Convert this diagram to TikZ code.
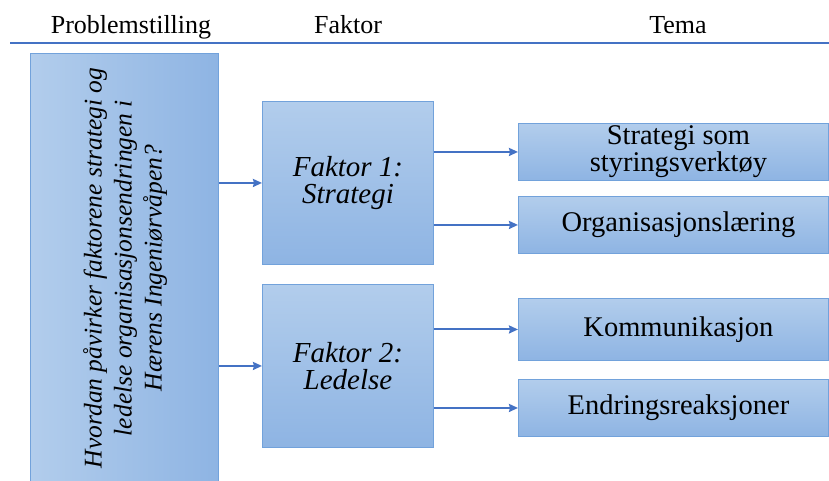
\documentclass[tikz,border=0pt]{standalone}
\usepackage{fontspec}
\setmainfont{Liberation Serif}
\usetikzlibrary{arrows.meta}
\definecolor{boxlight}{HTML}{B2CDEC}
\definecolor{boxdark}{HTML}{8EB4E3}
\definecolor{boxedge}{HTML}{72A2DB}
\definecolor{linkblue}{HTML}{4472C4}
\begin{document}
\begin{tikzpicture}[x=1pt,y=-1pt,
  header/.style={font=\fontsize{26}{30}\selectfont, inner sep=0pt, anchor=base},
  boxbase/.style={draw=boxedge, line width=0.9pt, inner sep=0pt},
  faktorbox/.style={boxbase, top color=boxlight, bottom color=boxdark,
    minimum width=171pt, minimum height=163pt, anchor=north west,
    align=center, font=\fontsize{29}{27}\itshape\selectfont},
  temabox/.style={boxbase, top color=boxlight, bottom color=boxdark,
    minimum width=310pt, minimum height=57pt, anchor=north west},
  tematext/.style={align=center, inner sep=0pt, xshift=5pt,
    font=\fontsize{28.5}{25}\selectfont},
  link/.style={draw=linkblue, line width=2pt,
    -{Stealth[length=9pt,width=8pt,inset=1pt]}}]
\clip (0,0) rectangle (829,480);

% column headings and rule
\node[header] (hprob) at (131,33) {Problemstilling};
\node[header] (hfak)  at (348,33) {Faktor};
\node[header] (htema) at (678,33) {Tema};
\coordinate (ruleL) at (10,43);
\coordinate (ruleR) at (829,43);
\draw[linkblue, line width=1.2pt] (ruleL) -- (ruleR);

% research question
\node[boxbase, left color=boxlight, right color=boxdark,
  minimum width=188pt, minimum height=450pt, anchor=north west]
  (prob) at (30,53) {};
\node[rotate=90, align=center, inner sep=0pt,
  font=\fontsize{25.5}{30}\itshape\selectfont] (probtxt) at (125,268)
  {Hvordan påvirker faktorene strategi og\\
   ledelse organisasjonsendringen i\\
   Hærens Ingeniørvåpen?};

% factors
\node[faktorbox] (f1) at (262,101) {Faktor 1:\\Strategi};
\node[faktorbox] (f2) at (262,284) {Faktor 2:\\Ledelse};

% themes
\node[temabox, label={[tematext]center:Strategi som\\styringsverktøy}] (t1) at (518,123) {};
\node[temabox, label={[tematext]center:Organisasjonslæring}] (t2) at (518,196) {};
\node[temabox, minimum height=62pt, label={[tematext]center:Kommunikasjon}] (t3) at (518,298) {};
\node[temabox, label={[tematext]center:Endringsreaksjoner}] (t4) at (518,379) {};

% connectors
\draw[link] (f1.west -| prob.east) -- (f1.west);
\draw[link] (f2.west -| prob.east) -- (f2.west);
\draw[link] (t1.west -| f1.east) -- (t1.west);
\draw[link] (t2.west -| f1.east) -- (t2.west);
\draw[link] (t3.west -| f2.east) -- (t3.west);
\draw[link] (t4.west -| f2.east) -- (t4.west);
\end{tikzpicture}
\end{document}
